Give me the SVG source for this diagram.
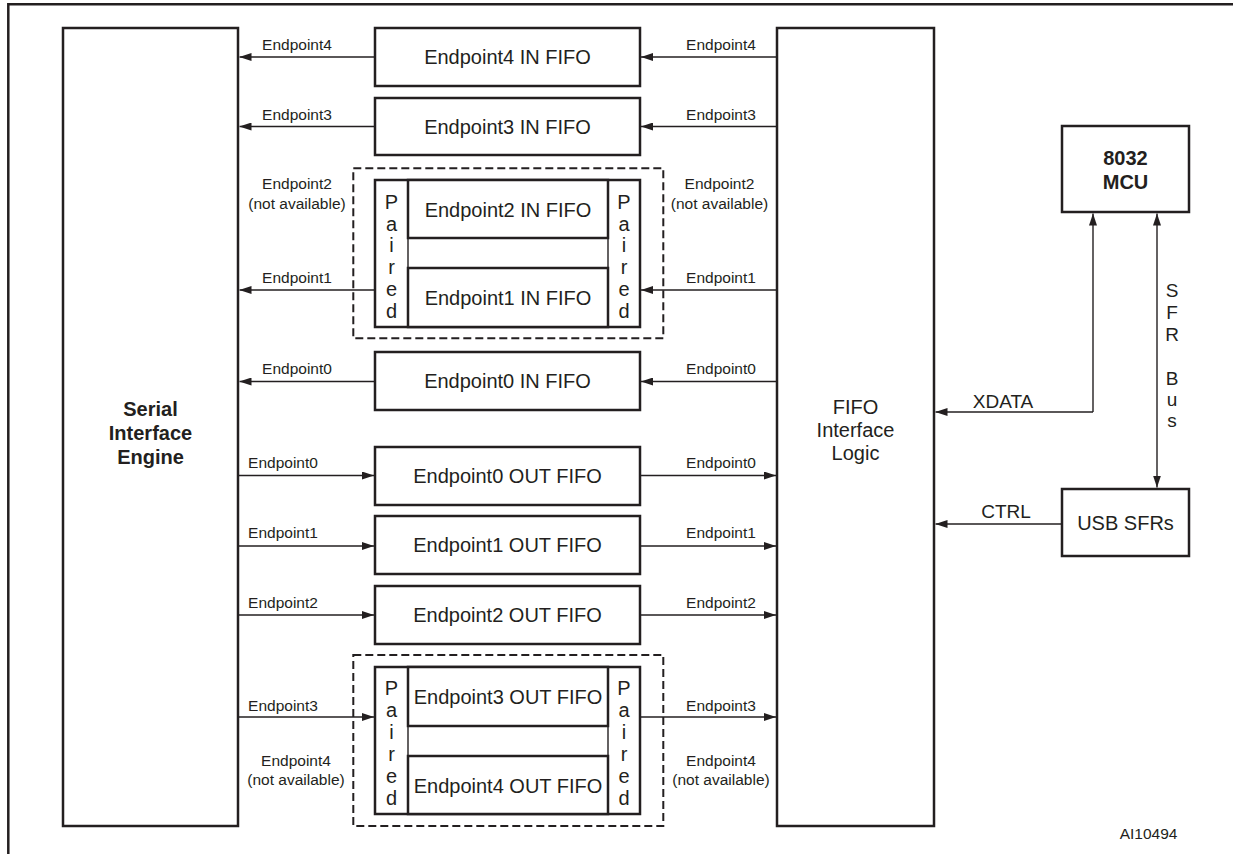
<svg xmlns="http://www.w3.org/2000/svg" width="1233" height="854" viewBox="0 0 1233 854">
<defs>
<marker id="ah" markerWidth="12" markerHeight="8" refX="12" refY="4" orient="auto" markerUnits="userSpaceOnUse">
<path d="M0,0 L12,4 L0,8 z" fill="#231f20"/>
</marker>
<style>
.bx{fill:#fff;stroke:#231f20;stroke-width:2.5}
.dash{fill:none;stroke:#231f20;stroke-width:2;stroke-dasharray:8,4}
.ln{fill:none;stroke:#231f20;stroke-width:1.4}
.ar{fill:none;stroke:#231f20;stroke-width:1.4;marker-end:url(#ah)}
.big{font-family:"Liberation Sans",Arial,sans-serif;font-size:20px;fill:#231f20;text-anchor:middle}
.bold{font-family:"Liberation Sans",Arial,sans-serif;font-size:20px;font-weight:bold;fill:#231f20;text-anchor:middle}
.sm{font-family:"Liberation Sans",Arial,sans-serif;font-size:15.5px;fill:#231f20;text-anchor:middle}
.md{font-family:"Liberation Sans",Arial,sans-serif;font-size:19px;fill:#231f20;text-anchor:middle}
</style>
</defs>
<rect width="1233" height="854" fill="#fff"/>
<path d="M8.3,854 V4.3 H1233" fill="none" stroke="#231f20" stroke-width="2.5"/>

<g id="sie">
<rect class="bx" x="63" y="28" width="175" height="798"/>
<text class="bold" x="150.5" y="416">Serial</text>
<text class="bold" x="150.5" y="440">Interface</text>
<text class="bold" x="150.5" y="464">Engine</text>
</g>

<g id="fifo-logic">
<rect class="bx" x="777" y="28" width="157" height="798"/>
<text class="big" x="855.5" y="414">FIFO</text>
<text class="big" x="855.5" y="437">Interface</text>
<text class="big" x="855.5" y="460">Logic</text>
</g>

<g id="ep4in">
<rect class="bx" x="375" y="28" width="265" height="58"/>
<text class="big" x="507.5" y="64">Endpoint4 IN FIFO</text>
</g>
<g id="ep3in">
<rect class="bx" x="375" y="98" width="265" height="57"/>
<text class="big" x="507.5" y="134">Endpoint3 IN FIFO</text>
</g>

<g id="paired-in">
<rect class="dash" x="353.3" y="168.3" width="310" height="170"/>
<rect class="bx" x="375" y="180" width="265" height="147"/>
<line class="ln" x1="408" y1="180" x2="408" y2="327" stroke-width="2.5"/>
<line class="ln" x1="608" y1="180" x2="608" y2="327" stroke-width="2.5"/>
<text class="big" x="391.5"><tspan x="391.5" y="209">P</tspan><tspan x="391.5" y="230.7">a</tspan><tspan x="391.5" y="252.4">i</tspan><tspan x="391.5" y="274">r</tspan><tspan x="391.5" y="295.8">e</tspan><tspan x="391.5" y="317.5">d</tspan></text>
<text class="big" x="624"><tspan x="624" y="209">P</tspan><tspan x="624" y="230.7">a</tspan><tspan x="624" y="252.4">i</tspan><tspan x="624" y="274">r</tspan><tspan x="624" y="295.8">e</tspan><tspan x="624" y="317.5">d</tspan></text>
</g>
<g id="ep2in">
<rect class="bx" x="408" y="180" width="200" height="58"/>
<text class="big" x="508" y="217">Endpoint2 IN FIFO</text>
</g>
<g id="ep1in">
<rect class="bx" x="408" y="268" width="200" height="59"/>
<text class="big" x="508" y="305">Endpoint1 IN FIFO</text>
</g>

<g id="ep0in">
<rect class="bx" x="375" y="352" width="265" height="58"/>
<text class="big" x="507.5" y="388">Endpoint0 IN FIFO</text>
</g>
<g id="ep0out">
<rect class="bx" x="375" y="447" width="265" height="58"/>
<text class="big" x="507.5" y="483">Endpoint0 OUT FIFO</text>
</g>
<g id="ep1out">
<rect class="bx" x="375" y="516" width="265" height="58"/>
<text class="big" x="507.5" y="552">Endpoint1 OUT FIFO</text>
</g>
<g id="ep2out">
<rect class="bx" x="375" y="586" width="265" height="58"/>
<text class="big" x="507.5" y="622">Endpoint2 OUT FIFO</text>
</g>

<g id="paired-out">
<rect class="dash" x="353.3" y="655" width="310" height="171"/>
<rect class="bx" x="375" y="667" width="265" height="147"/>
<line class="ln" x1="408" y1="667" x2="408" y2="814" stroke-width="2.5"/>
<line class="ln" x1="608" y1="667" x2="608" y2="814" stroke-width="2.5"/>
<text class="big" x="391.5"><tspan x="391.5" y="695">P</tspan><tspan x="391.5" y="717">a</tspan><tspan x="391.5" y="739">i</tspan><tspan x="391.5" y="761">r</tspan><tspan x="391.5" y="783">e</tspan><tspan x="391.5" y="805">d</tspan></text>
<text class="big" x="624"><tspan x="624" y="695">P</tspan><tspan x="624" y="717">a</tspan><tspan x="624" y="739">i</tspan><tspan x="624" y="761">r</tspan><tspan x="624" y="783">e</tspan><tspan x="624" y="805">d</tspan></text>
</g>
<g id="ep3out">
<rect class="bx" x="408" y="667" width="200" height="59"/>
<text class="big" x="508" y="704">Endpoint3 OUT FIFO</text>
</g>
<g id="ep4out">
<rect class="bx" x="408" y="756" width="200" height="58"/>
<text class="big" x="508" y="793">Endpoint4 OUT FIFO</text>
</g>

<g id="mcu">
<rect class="bx" x="1062" y="126" width="127" height="86" stroke-width="3"/>
<text class="bold" x="1125.5" y="165">8032</text>
<text class="bold" x="1125.5" y="189">MCU</text>
</g>
<g id="usbsfr">
<rect class="bx" x="1062" y="489" width="127" height="67" stroke-width="3"/>
<text class="big" x="1125.5" y="530">USB SFRs</text>
</g>

<g id="connectors">
<!-- IN rows -->
<line class="ar" x1="777" y1="57" x2="641" y2="57"/>
<line class="ar" x1="375" y1="57" x2="239.5" y2="57"/>
<line class="ar" x1="777" y1="126.5" x2="641" y2="126.5"/>
<line class="ar" x1="375" y1="126.5" x2="239.5" y2="126.5"/>
<line class="ar" x1="777" y1="290" x2="641" y2="290"/>
<line class="ar" x1="375" y1="290" x2="239.5" y2="290"/>
<line class="ar" x1="777" y1="381.5" x2="641" y2="381.5"/>
<line class="ar" x1="375" y1="381.5" x2="239.5" y2="381.5"/>
<!-- OUT rows -->
<line class="ar" x1="238" y1="475.5" x2="374" y2="475.5"/>
<line class="ar" x1="640" y1="475.5" x2="776" y2="475.5"/>
<line class="ar" x1="238" y1="546" x2="374" y2="546"/>
<line class="ar" x1="640" y1="546" x2="776" y2="546"/>
<line class="ar" x1="238" y1="615" x2="374" y2="615"/>
<line class="ar" x1="640" y1="615" x2="776" y2="615"/>
<line class="ar" x1="238" y1="717" x2="374" y2="717"/>
<line class="ar" x1="640" y1="717" x2="776" y2="717"/>
<!-- MCU links -->
<polyline class="ar" points="1093,412 1093,213.5"/>
<polyline class="ar" points="1093,412 935.5,412"/>
<line class="ar" x1="1157" y1="350" x2="1157" y2="213.5"/>
<line class="ar" x1="1157" y1="350" x2="1157" y2="487.5"/>
<line class="ar" x1="1062" y1="524" x2="935.5" y2="524"/>
</g>

<g id="labels">
<text class="sm" x="297" y="50">Endpoint4</text>
<text class="sm" x="721" y="50">Endpoint4</text>
<text class="sm" x="297" y="120">Endpoint3</text>
<text class="sm" x="721" y="120">Endpoint3</text>
<text class="sm" x="297" y="189">Endpoint2</text>
<text class="sm" x="297" y="208.5">(not available)</text>
<text class="sm" x="719.5" y="189">Endpoint2</text>
<text class="sm" x="719.5" y="208.5">(not available)</text>
<text class="sm" x="297" y="283">Endpoint1</text>
<text class="sm" x="721" y="283">Endpoint1</text>
<text class="sm" x="297" y="374">Endpoint0</text>
<text class="sm" x="721" y="374">Endpoint0</text>
<text class="sm" x="283" y="467.5">Endpoint0</text>
<text class="sm" x="721" y="467.5">Endpoint0</text>
<text class="sm" x="283" y="537.5">Endpoint1</text>
<text class="sm" x="721" y="537.5">Endpoint1</text>
<text class="sm" x="283" y="607.5">Endpoint2</text>
<text class="sm" x="721" y="607.5">Endpoint2</text>
<text class="sm" x="283" y="710.5">Endpoint3</text>
<text class="sm" x="721" y="710.5">Endpoint3</text>
<text class="sm" x="296" y="765.5">Endpoint4</text>
<text class="sm" x="296" y="785">(not available)</text>
<text class="sm" x="721" y="765.5">Endpoint4</text>
<text class="sm" x="721" y="785">(not available)</text>
<text class="md" x="1003" y="407.5">XDATA</text>
<text class="md" x="1006" y="518">CTRL</text>
<text class="md" x="1172"><tspan x="1172" y="297">S</tspan><tspan x="1172" y="319">F</tspan><tspan x="1172" y="341">R</tspan><tspan x="1172" y="385">B</tspan><tspan x="1172" y="406">u</tspan><tspan x="1172" y="427">s</tspan></text>
<text class="sm" x="1148.5" y="839">AI10494</text>
</g>
</svg>
